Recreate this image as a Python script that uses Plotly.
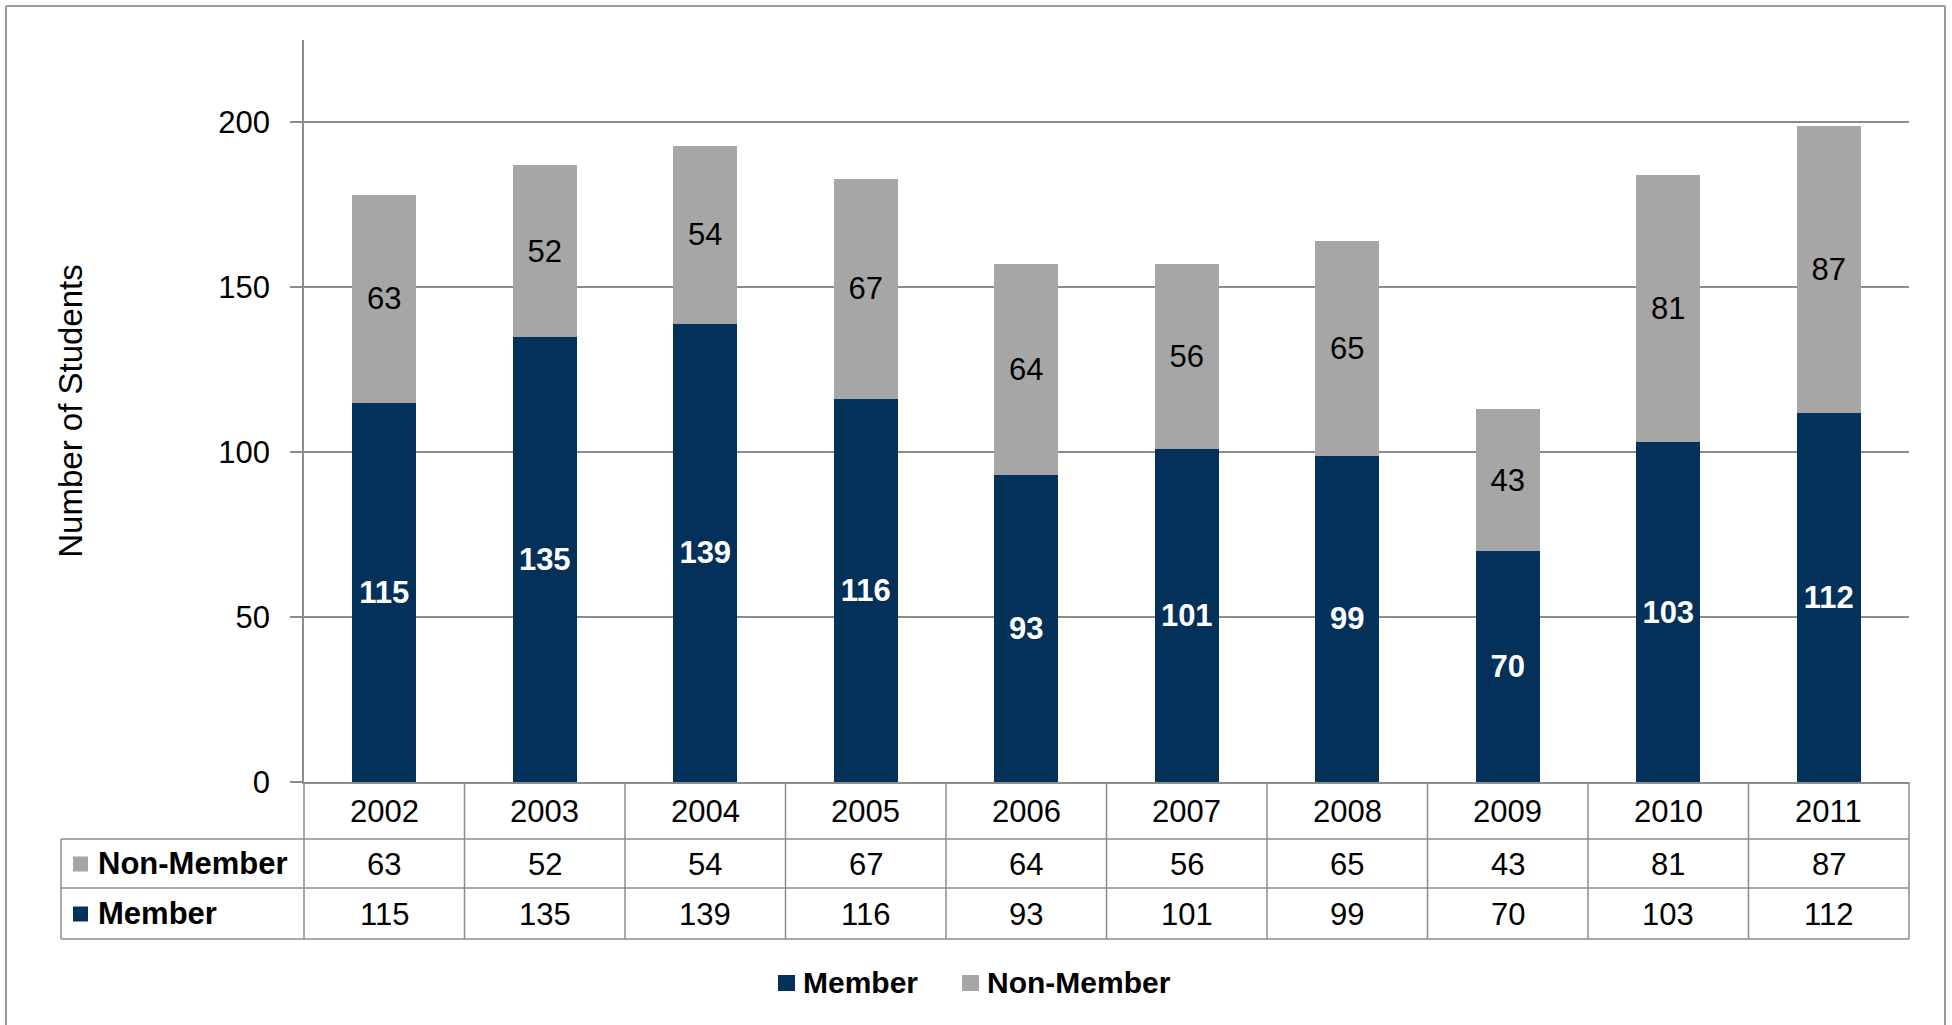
import plotly.graph_objects as go

# Students per year, split by membership status
years = ["2002", "2003", "2004", "2005", "2006", "2007", "2008", "2009", "2010", "2011"]
member = [115, 135, 139, 116, 93, 101, 99, 70, 103, 112]
non_member = [63, 52, 54, 67, 64, 56, 65, 43, 81, 87]
series_names = ["Member", "Non-Member"]
y_ticks = [0, 50, 100, 150, 200]

NAVY = "#03315a"
GREY = "#a6a6a6"
LINE = "#8c8c8c"
FONT = "Liberation Sans, Arial, sans-serif"

W, H = 1952, 1025
L, R, T, B = 304, 43, 40, 243
PW, PH = W - L - R, H - T - B


def px(x):
    """Pixel column -> paper x."""
    return (x - L) / PW


def py(y):
    """Pixel row -> paper y."""
    return (H - B - y) / PH


fig = go.Figure()
fig.add_trace(go.Bar(
    x=years, y=member, name=series_names[0],
    marker=dict(color=NAVY, line=dict(width=0)),
    text=member, texttemplate="%{y}", textposition="inside",
    insidetextanchor="middle", textangle=0,
    textfont=dict(family=FONT, size=31, color="white", weight="bold"),
    showlegend=False,
))
fig.add_trace(go.Bar(
    x=years, y=non_member, name=series_names[1],
    marker=dict(color=GREY, line=dict(width=0)),
    text=non_member, texttemplate="%{y}", textposition="inside",
    insidetextanchor="middle", textangle=0,
    textfont=dict(family=FONT, size=31, color="black"),
    showlegend=False,
))

shapes = []
annotations = []

# Outer frame (open at the bottom)
for x0, y0, x1, y1 in [(6, 6, 6, 1030), (6, 6, 1945, 6), (1945, 6, 1945, 1030)]:
    shapes.append(dict(type="line", xref="paper", yref="paper",
                       x0=px(x0), y0=py(y0), x1=px(x1), y1=py(y1),
                       line=dict(color="#9a9a9a", width=2)))

# Data table under the axis
n = len(years)
row_tops = [782, 839, 888, 939]
table_left = 61
for yy in row_tops[1:]:
    shapes.append(dict(type="line", xref="paper", yref="paper",
                       x0=px(table_left), x1=1, y0=py(yy), y1=py(yy),
                       line=dict(color=LINE, width=1.5)))
for k in range(n + 1):
    shapes.append(dict(type="line", xref="paper", yref="paper",
                       x0=k / n, x1=k / n,
                       y0=py(row_tops[0]), y1=py(row_tops[-1]),
                       line=dict(color=LINE, width=1.5)))
shapes.append(dict(type="line", xref="paper", yref="paper",
                   x0=px(table_left), x1=px(table_left),
                   y0=py(row_tops[1]), y1=py(row_tops[-1]),
                   line=dict(color=LINE, width=1.5)))

row_centers = [(a + b) / 2 for a, b in zip(row_tops[:-1], row_tops[1:])]
rows = [(None, years, None), (series_names[1], non_member, GREY), (series_names[0], member, NAVY)]
for (label, values, colour), yc in zip(rows, row_centers):
    for i, v in enumerate(values):
        annotations.append(dict(x=(i + 0.5) / n, xref="paper", y=py(yc + 1), yref="paper",
                                text=str(v), showarrow=False,
                                font=dict(family=FONT, size=31, color="black"),
                                xanchor="center", yanchor="middle"))
    if label:
        shapes.append(dict(type="rect", xref="paper", yref="paper",
                           x0=px(73), x1=px(88), y0=py(yc - 7), y1=py(yc + 8),
                           fillcolor=colour, line=dict(width=0)))
        annotations.append(dict(x=px(96), xref="paper", y=py(yc), yref="paper",
                                text=label, showarrow=False,
                                font=dict(family=FONT, size=31, color="black", weight="bold"),
                                xanchor="left", yanchor="middle"))

# Legend below the table
legend_y = 983
for name, colour, sq_x in [(series_names[0], NAVY, 778), (series_names[1], GREY, 962)]:
    shapes.append(dict(type="rect", xref="paper", yref="paper",
                       x0=px(sq_x), x1=px(sq_x + 17), y0=py(legend_y - 8), y1=py(legend_y + 8),
                       fillcolor=colour, line=dict(width=0)))
    annotations.append(dict(x=px(sq_x + 23), xref="paper", y=py(legend_y), yref="paper",
                            text=name, showarrow=False,
                            font=dict(family=FONT, size=30, color="black", weight="bold"),
                            xanchor="left", yanchor="middle"))

fig.update_layout(
    width=W, height=H,
    margin=dict(l=L, r=R, t=T, b=B, autoexpand=False),
    paper_bgcolor="white", plot_bgcolor="white",
    barmode="stack", bargap=0.6,
    font=dict(family=FONT, color="black"),
    shapes=shapes, annotations=annotations,
    xaxis=dict(type="category", range=[-0.5, 9.5], showticklabels=False,
               ticks="", showgrid=False, showline=True, linecolor=LINE,
               linewidth=1.5, zeroline=False, fixedrange=True),
    yaxis=dict(range=[0, 225], tickvals=y_ticks, ticks="outside", ticklen=12,
               tickcolor=LINE, tickwidth=1.5, ticklabelstandoff=14,
               tickfont=dict(family=FONT, size=31, color="black"),
               showgrid=True, gridcolor=LINE, gridwidth=1.5,
               showline=True, linecolor=LINE, linewidth=1.5, zeroline=False,
               title=dict(text="Number of Students", standoff=126,
                          font=dict(family=FONT, size=33, color="black")),
               fixedrange=True),
)

fig.write_html("out.html")
